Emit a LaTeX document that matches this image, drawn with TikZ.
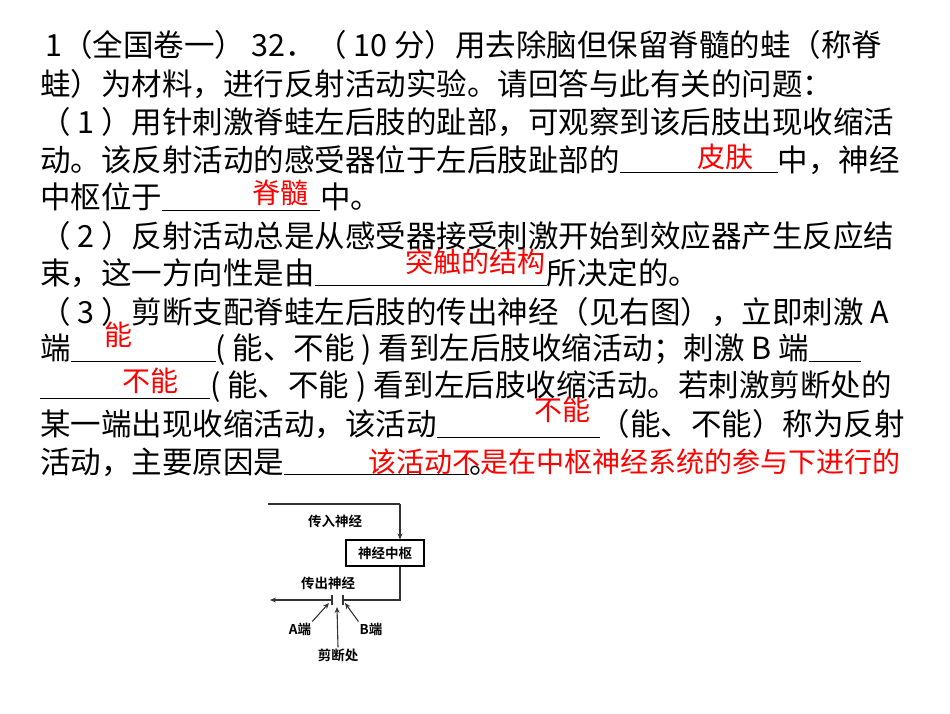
\documentclass[tikz,border=0pt]{standalone}
\usepackage{fontspec}
\setmainfont{Liberation Sans}
\newfontfamily\cjk{Noto Sans CJK SC}[BoldFont={Noto Sans CJK SC Bold}]
\usetikzlibrary{arrows.meta}
\begin{document}
\begin{tikzpicture}[x=1pt,y=-1pt,
  ln/.style={anchor=west,inner sep=0pt,font=\cjk\fontsize{30.5}{32}\selectfont},
  ans/.style={inner sep=0pt,text=red,font=\cjk\fontsize{28}{30}\selectfont},
  lab/.style={inner sep=1pt,font=\cjk\bfseries\fontsize{13.5}{14}\selectfont},
  wire/.style={line width=1.1pt,draw=black!80},
  arr/.style={wire,-{Stealth[length=6pt,width=5pt]}}]
\useasboundingbox (0,0) rectangle (950,713);
\newcommand{\blank}[1]{\underline{\hspace{#1pt}}}
\node[ln] (l1) at (45,45) {1（全国卷一） 32．（ 10 分）用去除脑但保留脊髓的蛙（称脊};
\node[ln] (l2) at (40,84) {蛙）为材料，进行反射活动实验。请回答与此有关的问题：};
\node[ln] (l3) at (40,122) {（ 1 ）用针刺激脊蛙左后肢的趾部，可观察到该后肢出现收缩活};
\node[ln] (l4) at (40,160) {动。该反射活动的感受器位于左后肢趾部的\blank{158}中，神经};
\node[ln] (l5) at (40,197) {中枢位于\blank{158}中。};
\node[ln] (l6) at (40,236) {（ 2 ）反射活动总是从感受器接受刺激开始到效应器产生反应结};
\node[ln] (l7) at (40,273) {束，这一方向性是由\blank{232}所决定的。};
\node[ln] (l8) at (40,312) {（ 3 ）剪断支配脊蛙左后肢的传出神经（见右图），立即刺激 A};
\node[ln] (l9) at (40,350) {端\blank{145}( 能、不能 ) 看到左后肢收缩活动；刺激 B 端\blank{52}};
\node[ln] (l10) at (40,387) {\blank{170}( 能、不能 ) 看到左后肢收缩活动。若刺激剪断处的};
\node[ln] (l11) at (40,424) {某一端出现收缩活动，该活动\blank{163}（能、不能）称为反射};
\node[ln] (l12) at (40,462) {活动，主要原因是\blank{185}。};
\node[ans] (a1) at (725,157) {皮肤};
\node[ans] (a2) at (280,193) {脊髓};
\node[ans] (a3) at (475,262) {突触的结构};
\node[ans] (a4) at (118,335) {能};
\node[ans] (a5) at (150,381) {不能};
\node[ans] (a6) at (562,410) {不能};
\node[ans,anchor=west] (a7) at (368,462) {该活动不是在中枢神经系统的参与下进行的};
% diagram
\node[lab] (in) at (335,521) {传入神经};
\node[lab,draw,line width=1.1pt,minimum width=78pt,minimum height=26pt] (cns) at (385,553) {神经中枢};
\node[lab] (out) at (328,583) {传出神经};
\node[lab] (A) at (300,629) {A端};
\node[lab] (B) at (371,629) {B端};
\node[lab] (cut) at (338,655) {剪断处};
\coordinate (t0) at (268,504);
\coordinate (t1) at (400,504);
\coordinate (b0) at (400,600);
\coordinate (bc) at (343,600);
\coordinate (ac) at (332,600);
\coordinate (aend) at (270,600);
\draw[wire] (t0) -- (t1);
\draw[arr] (t1) -- (t1 |- cns.north);
\draw[wire] (b0 |- cns.south) -- (b0) -- (bc);
\draw[arr] (ac) -- (aend);
\draw[wire] (332,595) -- (332,605) (343,595) -- (343,605);
\draw[arr] (A.north east) -- (329,603);
\draw[arr] (B.north west) -- (345,603);
\draw[arr] (cut.north) -- (337,607);
\end{tikzpicture}
\end{document}
